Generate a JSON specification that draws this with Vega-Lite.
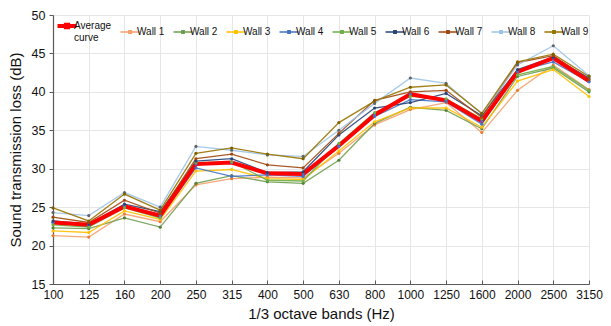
{
  "$schema": "https://vega.github.io/schema/vega-lite/v6.json",
  "width": 536,
  "height": 269,
  "autosize": {"type": "none"},
  "padding": {"left": 53, "top": 15, "right": 22, "bottom": 42},
  "background": "white",
  "config": {
    "font": "Liberation Sans",
    "view": {"stroke": null},
    "axis": {
      "labelFont": "Liberation Sans",
      "titleFont": "Liberation Sans",
      "labelColor": "#111",
      "titleColor": "#111",
      "titleFontWeight": "normal",
      "gridColor": "#E6E6E6",
      "gridWidth": 1,
      "domainColor": "#595959",
      "tickColor": "#595959",
      "domainWidth": 1.2
    }
  },
  "data": {"values": [
    {"band":100,"series":"Average curve","tl":23.0},{"band":125,"series":"Average curve","tl":22.7},{"band":160,"series":"Average curve","tl":25.1},{"band":200,"series":"Average curve","tl":23.9},{"band":250,"series":"Average curve","tl":30.6},{"band":315,"series":"Average curve","tl":30.8},{"band":400,"series":"Average curve","tl":29.4},{"band":500,"series":"Average curve","tl":29.3},{"band":630,"series":"Average curve","tl":33.0},{"band":800,"series":"Average curve","tl":37.0},{"band":1000,"series":"Average curve","tl":39.7},{"band":1250,"series":"Average curve","tl":38.9},{"band":1600,"series":"Average curve","tl":36.2},{"band":2000,"series":"Average curve","tl":42.6},{"band":2500,"series":"Average curve","tl":44.4},{"band":3150,"series":"Average curve","tl":41.4},
    {"band":100,"series":"Wall 1","tl":21.3},{"band":125,"series":"Wall 1","tl":21.1},{"band":160,"series":"Wall 1","tl":24.1},{"band":200,"series":"Wall 1","tl":23.1},{"band":250,"series":"Wall 1","tl":27.9},{"band":315,"series":"Wall 1","tl":28.7},{"band":400,"series":"Wall 1","tl":28.9},{"band":500,"series":"Wall 1","tl":28.8},{"band":630,"series":"Wall 1","tl":32.0},{"band":800,"series":"Wall 1","tl":35.7},{"band":1000,"series":"Wall 1","tl":37.7},{"band":1250,"series":"Wall 1","tl":38.6},{"band":1600,"series":"Wall 1","tl":34.7},{"band":2000,"series":"Wall 1","tl":40.2},{"band":2500,"series":"Wall 1","tl":43.5},{"band":3150,"series":"Wall 1","tl":40.3},
    {"band":100,"series":"Wall 2","tl":22.3},{"band":125,"series":"Wall 2","tl":22.2},{"band":160,"series":"Wall 2","tl":23.6},{"band":200,"series":"Wall 2","tl":22.4},{"band":250,"series":"Wall 2","tl":28.1},{"band":315,"series":"Wall 2","tl":29.1},{"band":400,"series":"Wall 2","tl":28.3},{"band":500,"series":"Wall 2","tl":28.1},{"band":630,"series":"Wall 2","tl":31.1},{"band":800,"series":"Wall 2","tl":35.9},{"band":1000,"series":"Wall 2","tl":38.0},{"band":1250,"series":"Wall 2","tl":37.6},{"band":1600,"series":"Wall 2","tl":35.2},{"band":2000,"series":"Wall 2","tl":42.0},{"band":2500,"series":"Wall 2","tl":43.1},{"band":3150,"series":"Wall 2","tl":40.0},
    {"band":100,"series":"Wall 3","tl":21.9},{"band":125,"series":"Wall 3","tl":21.7},{"band":160,"series":"Wall 3","tl":24.5},{"band":200,"series":"Wall 3","tl":23.4},{"band":250,"series":"Wall 3","tl":29.7},{"band":315,"series":"Wall 3","tl":29.9},{"band":400,"series":"Wall 3","tl":28.7},{"band":500,"series":"Wall 3","tl":28.6},{"band":630,"series":"Wall 3","tl":32.3},{"band":800,"series":"Wall 3","tl":36.1},{"band":1000,"series":"Wall 3","tl":37.9},{"band":1250,"series":"Wall 3","tl":37.9},{"band":1600,"series":"Wall 3","tl":35.4},{"band":2000,"series":"Wall 3","tl":41.4},{"band":2500,"series":"Wall 3","tl":42.9},{"band":3150,"series":"Wall 3","tl":39.4},
    {"band":100,"series":"Wall 4","tl":23.0},{"band":125,"series":"Wall 4","tl":22.5},{"band":160,"series":"Wall 4","tl":25.2},{"band":200,"series":"Wall 4","tl":23.7},{"band":250,"series":"Wall 4","tl":30.1},{"band":315,"series":"Wall 4","tl":29.0},{"band":400,"series":"Wall 4","tl":29.2},{"band":500,"series":"Wall 4","tl":29.0},{"band":630,"series":"Wall 4","tl":32.9},{"band":800,"series":"Wall 4","tl":36.8},{"band":1000,"series":"Wall 4","tl":39.0},{"band":1250,"series":"Wall 4","tl":38.7},{"band":1600,"series":"Wall 4","tl":35.8},{"band":2000,"series":"Wall 4","tl":42.7},{"band":2500,"series":"Wall 4","tl":43.9},{"band":3150,"series":"Wall 4","tl":41.3},
    {"band":100,"series":"Wall 5","tl":22.7},{"band":125,"series":"Wall 5","tl":22.4},{"band":160,"series":"Wall 5","tl":24.9},{"band":200,"series":"Wall 5","tl":23.6},{"band":250,"series":"Wall 5","tl":30.8},{"band":315,"series":"Wall 5","tl":30.9},{"band":400,"series":"Wall 5","tl":28.5},{"band":500,"series":"Wall 5","tl":28.4},{"band":630,"series":"Wall 5","tl":33.3},{"band":800,"series":"Wall 5","tl":37.3},{"band":1000,"series":"Wall 5","tl":39.4},{"band":1250,"series":"Wall 5","tl":39.1},{"band":1600,"series":"Wall 5","tl":36.5},{"band":2000,"series":"Wall 5","tl":42.2},{"band":2500,"series":"Wall 5","tl":43.3},{"band":3150,"series":"Wall 5","tl":40.2},
    {"band":100,"series":"Wall 6","tl":23.2},{"band":125,"series":"Wall 6","tl":22.8},{"band":160,"series":"Wall 6","tl":25.4},{"band":200,"series":"Wall 6","tl":24.4},{"band":250,"series":"Wall 6","tl":31.0},{"band":315,"series":"Wall 6","tl":31.3},{"band":400,"series":"Wall 6","tl":29.5},{"band":500,"series":"Wall 6","tl":29.6},{"band":630,"series":"Wall 6","tl":34.4},{"band":800,"series":"Wall 6","tl":37.9},{"band":1000,"series":"Wall 6","tl":38.6},{"band":1250,"series":"Wall 6","tl":39.8},{"band":1600,"series":"Wall 6","tl":36.9},{"band":2000,"series":"Wall 6","tl":42.9},{"band":2500,"series":"Wall 6","tl":44.5},{"band":3150,"series":"Wall 6","tl":41.8},
    {"band":100,"series":"Wall 7","tl":23.7},{"band":125,"series":"Wall 7","tl":23.0},{"band":160,"series":"Wall 7","tl":25.9},{"band":200,"series":"Wall 7","tl":24.2},{"band":250,"series":"Wall 7","tl":31.3},{"band":315,"series":"Wall 7","tl":31.9},{"band":400,"series":"Wall 7","tl":30.5},{"band":500,"series":"Wall 7","tl":30.1},{"band":630,"series":"Wall 7","tl":34.6},{"band":800,"series":"Wall 7","tl":38.9},{"band":1000,"series":"Wall 7","tl":40.0},{"band":1250,"series":"Wall 7","tl":40.2},{"band":1600,"series":"Wall 7","tl":36.7},{"band":2000,"series":"Wall 7","tl":43.8},{"band":2500,"series":"Wall 7","tl":44.7},{"band":3150,"series":"Wall 7","tl":41.6},
    {"band":100,"series":"Wall 8","tl":24.3},{"band":125,"series":"Wall 8","tl":23.9},{"band":160,"series":"Wall 8","tl":26.9},{"band":200,"series":"Wall 8","tl":25.0},{"band":250,"series":"Wall 8","tl":32.9},{"band":315,"series":"Wall 8","tl":32.4},{"band":400,"series":"Wall 8","tl":31.8},{"band":500,"series":"Wall 8","tl":31.6},{"band":630,"series":"Wall 8","tl":35.0},{"band":800,"series":"Wall 8","tl":38.5},{"band":1000,"series":"Wall 8","tl":41.8},{"band":1250,"series":"Wall 8","tl":41.1},{"band":1600,"series":"Wall 8","tl":37.1},{"band":2000,"series":"Wall 8","tl":43.5},{"band":2500,"series":"Wall 8","tl":46.0},{"band":3150,"series":"Wall 8","tl":42.1},
    {"band":100,"series":"Wall 9","tl":24.9},{"band":125,"series":"Wall 9","tl":23.2},{"band":160,"series":"Wall 9","tl":26.7},{"band":200,"series":"Wall 9","tl":24.6},{"band":250,"series":"Wall 9","tl":32.0},{"band":315,"series":"Wall 9","tl":32.7},{"band":400,"series":"Wall 9","tl":31.9},{"band":500,"series":"Wall 9","tl":31.3},{"band":630,"series":"Wall 9","tl":36.0},{"band":800,"series":"Wall 9","tl":38.8},{"band":1000,"series":"Wall 9","tl":40.6},{"band":1250,"series":"Wall 9","tl":40.9},{"band":1600,"series":"Wall 9","tl":37.2},{"band":2000,"series":"Wall 9","tl":43.9},{"band":2500,"series":"Wall 9","tl":44.9},{"band":3150,"series":"Wall 9","tl":42.0}
  ]},
  "encoding": {
    "x": {
      "field": "band", "type": "ordinal",
      "scale": {"type": "point", "padding": 0},
      "axis": {
        "title": "1/3 octave bands (Hz)", "labelAngle": 0, "labelFontSize": 12, "titleFontSize": 15,
        "grid": true, "tickSize": -4, "labelPadding": 9, "titlePadding": 6
      }
    },
    "y": {
      "field": "tl", "type": "quantitative",
      "scale": {"domain": [15, 50], "nice": false, "zero": false},
      "axis": {
        "title": "Sound transmission loss (dB)", "values": [15, 20, 25, 30, 35, 40, 45, 50],
        "labelFontSize": 12.5, "titleFontSize": 15, "tickSize": 4, "labelPadding": 4, "titlePadding": 8, "grid": true
      }
    }
  },
  "layer": [
    {
      "layer": [
        {
          "transform": [{"filter": "datum.series !== 'Average curve'"}],
          "mark": {"type": "line", "strokeWidth": 1.3, "opacity": 0.9}
        },
        {
          "transform": [{"filter": "datum.series === 'Average curve'"}],
          "mark": {"type": "line", "strokeWidth": 4}
        }
      ],
      "encoding": {
        "color": {
          "field": "series", "type": "nominal",
          "scale": {
            "domain": ["Average curve", "Wall 1", "Wall 2", "Wall 3", "Wall 4", "Wall 5", "Wall 6", "Wall 7", "Wall 8", "Wall 9"],
            "range": ["#FF0000", "#F4A06B", "#6F9D4F", "#FFC000", "#4472C4", "#70AD47", "#264478", "#9E480E", "#9DC3E6", "#997300"]
          },
          "legend": {
            "title": null, "orient": "none", "legendX": 9, "legendY": 6,
            "direction": "horizontal", "columns": 10,
            "symbolType": "M-1,0H1M-0.12,-0.12H0.12V0.12H-0.12Z",
            "symbolSize": 361, "symbolStrokeWidth": 1.5,
            "labelFont": "Liberation Sans", "labelFontSize": 10, "labelColor": "#111",
            "labelOffset": 2, "columnPadding": 5, "labelLimit": 100,
            "labelExpr": "datum.value === 'Average curve' ? ['Average', 'curve'] : datum.value",
            "encode": {"symbols": {"update": {"strokeWidth": {"signal": "datum.value === 'Average curve' ? 4 : 1.5"}}}}
          }
        }
      }
    },
    {
      "mark": {"type": "point", "filled": true, "size": 10, "opacity": 1},
      "encoding": {
        "color": {
          "field": "series", "type": "nominal",
          "scale": {
            "domain": ["Average curve", "Wall 1", "Wall 2", "Wall 3", "Wall 4", "Wall 5", "Wall 6", "Wall 7", "Wall 8", "Wall 9"],
            "range": ["#4472C4", "#ED7D31", "#548235", "#FFC000", "#4472C4", "#70AD47", "#264478", "#9E480E", "#636363", "#7F6000"]
          },
          "legend": null
        }
      }
    }
  ],
  "resolve": {"scale": {"color": "independent"}}
}
